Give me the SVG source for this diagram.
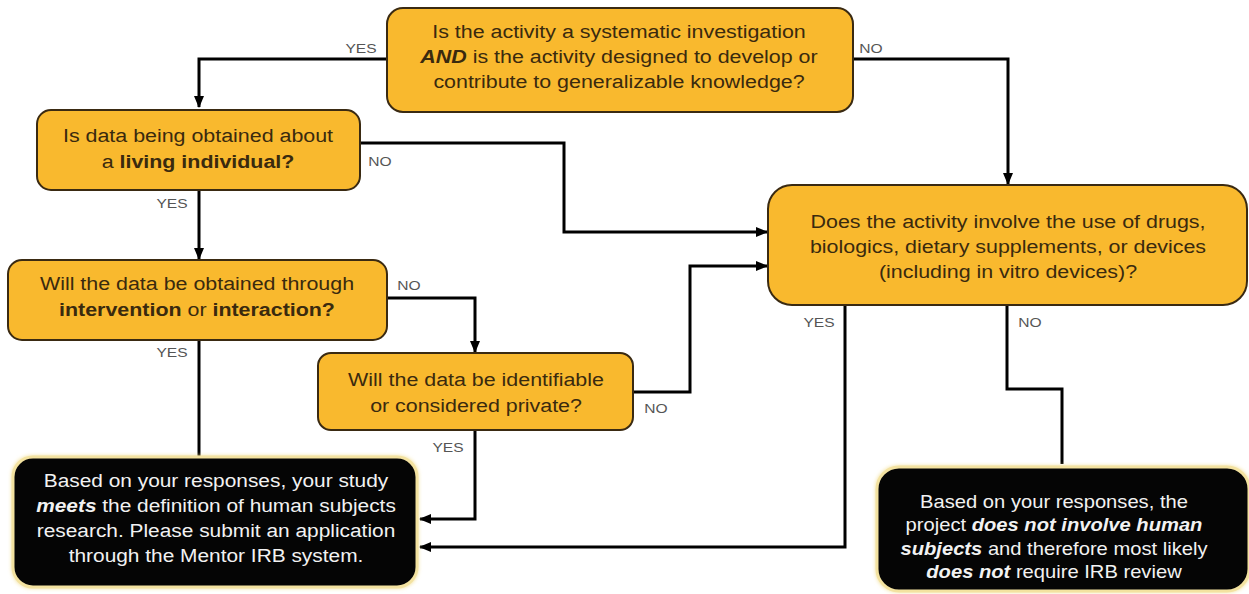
<svg xmlns="http://www.w3.org/2000/svg" width="1249" height="594" viewBox="0 0 1249 594">
<defs>
<style>
.q{fill:#F9B92E;stroke:#3a2a12;stroke-width:2}
.qt{font-family:"Liberation Sans",Arial,sans-serif;font-size:18px;fill:#3a2a0e;text-anchor:middle}
.r{fill:#050505;stroke:#f3e2a0;stroke-width:3}
.rt{font-family:"Liberation Sans",Arial,sans-serif;font-size:18px;fill:#f2f2f2;text-anchor:middle}
.c{fill:none;stroke:#000;stroke-width:3}
.l{font-family:"Liberation Sans",Arial,sans-serif;font-size:13px;fill:#555;text-anchor:middle}
.b{font-weight:bold}
.bi{font-weight:bold;font-style:italic}
</style>
<marker id="ah" markerUnits="userSpaceOnUse" markerWidth="12" markerHeight="10" refX="11" refY="5" orient="auto">
<path d="M0,0 L12,5 L0,10 z" fill="#000"/>
</marker>
<filter id="glow" x="-5%" y="-10%" width="110%" height="120%">
<feGaussianBlur stdDeviation="2"/>
</filter>
</defs>
<rect width="1249" height="594" fill="#fff"/>

<g id="connectors">
<path class="c" d="M387,59 H199 V107" marker-end="url(#ah)"/>
<path class="c" d="M853,59 H1008 V184" marker-end="url(#ah)"/>
<path class="c" d="M360,143 H564 V232 H767" marker-end="url(#ah)"/>
<path class="c" d="M199,190 V259" marker-end="url(#ah)"/>
<path class="c" d="M387,298 H475 V352" marker-end="url(#ah)"/>
<path class="c" d="M633,392 H690 V266 H767" marker-end="url(#ah)"/>
<path class="c" d="M475,430 V519 H420" marker-end="url(#ah)"/>
<path class="c" d="M199,340 V457"/>
<path class="c" d="M845,305 V547 H420" marker-end="url(#ah)"/>
<path class="c" d="M1007,305 V389 H1062 V464"/>
<g transform="translate(361,0) scale(1.2,1)"><text class="l" x="0" y="53">YES</text></g>
<g transform="translate(871,0) scale(1.2,1)"><text class="l" x="0" y="53">NO</text></g>
<g transform="translate(380,0) scale(1.2,1)"><text class="l" x="0" y="166">NO</text></g>
<g transform="translate(172,0) scale(1.2,1)"><text class="l" x="0" y="208">YES</text></g>
<g transform="translate(409,0) scale(1.2,1)"><text class="l" x="0" y="290">NO</text></g>
<g transform="translate(656,0) scale(1.2,1)"><text class="l" x="0" y="413">NO</text></g>
<g transform="translate(448,0) scale(1.2,1)"><text class="l" x="0" y="452">YES</text></g>
<g transform="translate(172,0) scale(1.2,1)"><text class="l" x="0" y="357">YES</text></g>
<g transform="translate(819,0) scale(1.2,1)"><text class="l" x="0" y="327">YES</text></g>
<g transform="translate(1030,0) scale(1.2,1)"><text class="l" x="0" y="327">NO</text></g>
</g>

<g id="q1">
<rect class="q" x="387" y="8" width="466" height="104" rx="16"/>
<g transform="translate(619,0) scale(1.19,1)">
<text class="qt" x="0" y="38">Is the activity a systematic investigation</text>
<text class="qt" x="0" y="63"><tspan class="bi">AND</tspan> is the activity designed to develop or</text>
<text class="qt" x="0" y="88">contribute to generalizable knowledge?</text>
</g>
</g>

<g id="q2">
<rect class="q" x="37" y="110" width="323" height="80" rx="14"/>
<g transform="translate(198,0) scale(1.19,1)">
<text class="qt" x="0" y="142">Is data being obtained about</text>
<text class="qt" x="0" y="168">a <tspan class="b">living individual?</tspan></text>
</g>
</g>

<g id="q3">
<rect class="q" x="8" y="260" width="379" height="80" rx="14"/>
<g transform="translate(197,0) scale(1.19,1)">
<text class="qt" x="0" y="290">Will the data be obtained through</text>
<text class="qt" x="0" y="316"><tspan class="b">intervention</tspan> or <tspan class="b">interaction?</tspan></text>
</g>
</g>

<g id="q4">
<rect class="q" x="768" y="185" width="479" height="120" rx="24"/>
<g transform="translate(1008,0) scale(1.19,1)">
<text class="qt" x="0" y="228">Does the activity involve the use of drugs,</text>
<text class="qt" x="0" y="253">biologics, dietary supplements, or devices</text>
<text class="qt" x="0" y="278">(including in vitro devices)?</text>
</g>
</g>

<g id="q5">
<rect class="q" x="318" y="353" width="315" height="77" rx="13"/>
<g transform="translate(476,0) scale(1.19,1)">
<text class="qt" x="0" y="386">Will the data be identifiable</text>
<text class="qt" x="0" y="412">or considered private?</text>
</g>
</g>

<g id="r1">
<rect x="12" y="456" width="406" height="132" rx="20" fill="#f1dc88" filter="url(#glow)"/>
<rect class="r" x="13" y="457" width="404" height="130" rx="20"/>
<g transform="translate(216,0) scale(1.16,1)">
<text class="rt" x="0" y="487">Based on your responses, your study</text>
<text class="rt" x="0" y="512"><tspan class="bi">meets</tspan> the definition of human subjects</text>
<text class="rt" x="0" y="537">research. Please submit an application</text>
<text class="rt" x="0" y="562">through the Mentor IRB system.</text>
</g>
</g>

<g id="r2">
<rect x="876" y="466" width="374" height="126" rx="22" fill="#f1dc88" filter="url(#glow)"/>
<rect class="r" x="877" y="467" width="372" height="124" rx="22"/>
<g transform="translate(1054,0) scale(1.12,1)">
<text class="rt" x="0" y="508">Based on your responses, the</text>
<text class="rt" x="0" y="531">project <tspan class="bi">does not involve human</tspan></text>
<text class="rt" x="0" y="555"><tspan class="bi">subjects</tspan> and therefore most likely</text>
<text class="rt" x="0" y="578"><tspan class="bi">does not</tspan> require IRB review</text>
</g>
</g>
</svg>
